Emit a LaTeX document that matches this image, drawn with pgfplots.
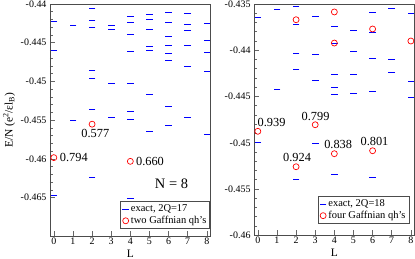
\documentclass[border=0pt]{standalone}
\usepackage{fontspec}
\setmainfont{Liberation Serif}
\usepackage{pgfplots}
\pgfplotsset{compat=1.18}
\tikzset{ann/.style={font=\fontsize{12.4}{14}\selectfont, inner sep=0pt}}
\begin{document}
\begin{tikzpicture}
\path[use as bounding box] (-50bp,-22.7bp) rectangle (365bp,236.3bp);
\pgfplotsset{
  panel/.style={
    scale only axis, width=160.7bp, height=232.3bp,
    xmin=-0.2, xmax=8.2, xtick={0,...,8},
    tick align=inside, tick pos=left,
    major tick length=5bp, minor tick length=3bp,
    minor y tick num=4,
    axis line style={black!70, line width=0.8pt},
    tick style={black!60, line width=0.6pt},
    ticklabel style={font=\fontsize{10}{12}\selectfont},
    xticklabel style={yshift=1.5bp},
    /pgf/number format/assume math mode=true,
    label style={font=\fontsize{11.5}{13}\selectfont},
    xlabel=L,
    xlabel style={at={(axis description cs:0.5,-0.074)}, anchor=center},
    legend cell align=left,
    legend style={draw=black!70, line width=0.8pt, fill=white,
      font=\fontsize{10.5}{12}\selectfont, row sep=-1pt, inner sep=1.5pt},
  },
  bars/.style={only marks, mark=-, mark size=3.3bp, blue, line width=1bp},
  circ/.style={only marks, mark=o, mark size=3bp, red, line width=0.7bp, mark options={solid}},
}
% ---------- left panel: 2Q=17 ----------
\begin{axis}[panel, at={(0bp,0bp)}, anchor=south west,
  ymin=-0.47, ymax=-0.44,
  ytick={-0.465,-0.46,-0.455,-0.45,-0.445,-0.44},
  yticklabels={-0.465,-0.46,-0.455,-0.45,-0.445,-0.44},
  ylabel={E/N (e\textsuperscript{2}/εl\textsubscript{B})},
  ylabel style={at={(axis description cs:-0.255,0.5)}, anchor=center},
  legend style={at={(0.997,0.031)}, anchor=south east}]
\addplot[bars] coordinates {
 (0,-0.44231) (0,-0.44600) (0,-0.46478)
 (1,-0.44279) (1,-0.45509)
 (2,-0.44062) (2,-0.44218) (2,-0.44301) (2,-0.44864) (2,-0.44968) (2,-0.45361) (2,-0.46240)
 (3,-0.44275) (3,-0.44335) (3,-0.45023) (3,-0.45470)
 (4,-0.44166) (4,-0.44236) (4,-0.44400) (4,-0.44608) (4,-0.45032) (4,-0.45387) (4,-0.45487) (4,-0.46509)
 (5,-0.44140) (5,-0.44205) (5,-0.44335) (5,-0.44543) (5,-0.44595) (5,-0.45166) (5,-0.45643)
 (6,-0.44114) (6,-0.44240) (6,-0.44422) (6,-0.44530) (6,-0.44634) (6,-0.44725) (6,-0.45318) (6,-0.45574)
 (7,-0.44127) (7,-0.44262) (7,-0.44340) (7,-0.44530) (7,-0.44803) (7,-0.45465)
 (8,-0.44257) (8,-0.44465) (8,-0.44621) (8,-0.44868) (8,-0.45686)
};
\addlegendentry{exact, 2Q=17}
\addplot[circ] coordinates {(0,-0.45984) (2,-0.45552) (4,-0.46032)};
\addlegendentry{two Gaffnian qh's}
\node[ann, anchor=west] at (axis cs:0.31,-0.45984) {0.794};
\node[ann] at (axis cs:2.17,-0.45673) {0.577};
\node[ann, anchor=west] at (axis cs:4.29,-0.46032) {0.660};
\node[font=\fontsize{14.5}{16}\selectfont, inner sep=0pt] at (axis cs:6.15,-0.46326) {N = 8};
\end{axis}
% ---------- right panel: 2Q=18 ----------
\begin{axis}[panel, at={(204bp,1bp)}, anchor=south west, height=231.3bp,
  ymin=-0.46, ymax=-0.435,
  ytick={-0.46,-0.455,-0.45,-0.445,-0.44,-0.435},
  yticklabels={-0.46,-0.455,-0.45,-0.445,-0.44,-0.435},
  legend style={at={(0.967,0.049)}, anchor=south east}]
\addplot[bars] coordinates {
 (0,-0.43644) (0,-0.44995)
 (1,-0.43557) (1,-0.44426)
 (2,-0.43532) (2,-0.43720) (2,-0.44037) (2,-0.44210) (2,-0.45395)
 (3,-0.43630) (3,-0.44051) (3,-0.44325) (3,-0.45006)
 (4,-0.43738) (4,-0.43922) (4,-0.44264) (4,-0.44401) (4,-0.44473) (4,-0.45341)
 (5,-0.43785) (5,-0.44012) (5,-0.44260) (5,-0.44466)
 (6,-0.43590) (6,-0.43810) (6,-0.44087) (6,-0.44448) (6,-0.45374)
 (7,-0.43547) (7,-0.44095) (7,-0.44235)
 (8,-0.43608) (8,-0.44340) (8,-0.44509)
};
\addlegendentry{exact, 2Q=18}
\addplot[circ] coordinates {(0,-0.44876) (2,-0.43670) (2,-0.45259) (3,-0.44805)
 (4,-0.43586) (4,-0.43922) (4,-0.45118) (6,-0.43770) (6,-0.45086) (8,-0.43900)};
\addlegendentry{four Gaffnian qh's}
\node[ann] at (axis cs:0.72,-0.44776) {0.939};
\node[ann] at (axis cs:3.02,-0.44711) {0.799};
\node[ann] at (axis cs:2.05,-0.45154) {0.924};
\node[ann] at (axis cs:4.2,-0.45019) {0.838};
\node[ann] at (axis cs:6.1,-0.44986) {0.801};
\end{axis}
\end{tikzpicture}
\end{document}
